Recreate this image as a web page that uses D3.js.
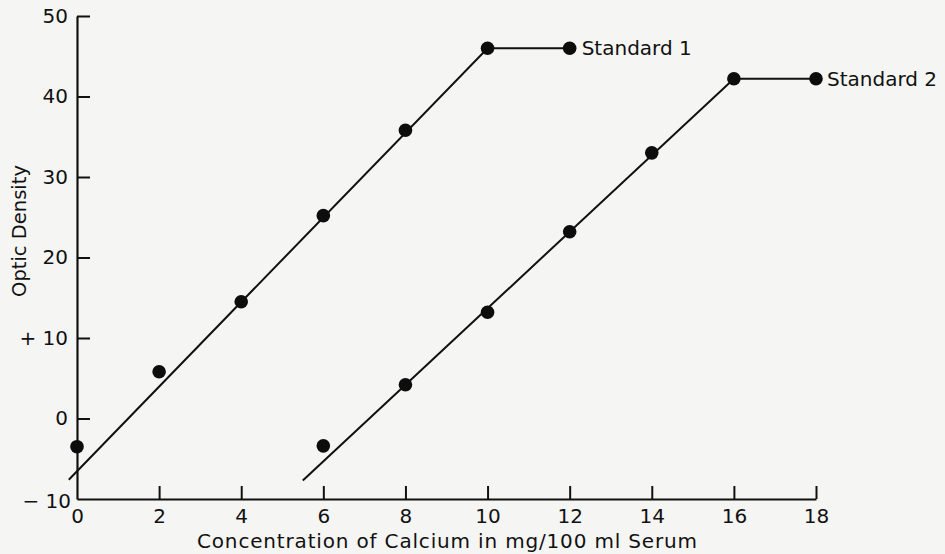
<!DOCTYPE html>
<html>
<head>
<meta charset="utf-8">
<script src="https://cdn.jsdelivr.net/npm/d3@7"></script>
<style>
  html, body { margin: 0; padding: 0; background: #f5f5f3; }
  svg { display: block; }
  text { font-family: "DejaVu Sans", sans-serif; fill: #111; }
</style>
</head>
<body>
<svg id="chart" width="945" height="554"></svg>
<script>
// Calibration curves: optic density vs. calcium concentration
const xTicks = [0, 2, 4, 6, 8, 10, 12, 14, 16, 18];
const yTicks = [-10, 0, 10, 20, 30, 40, 50];
const yTickLabels = ["\u2212 10", "0", "+ 10", "20", "30", "40", "50"];

// Measured points
const std1X = [0, 2, 4, 6, 8, 10, 12];
const std1Y = [-3.5, 5.8, 14.5, 25.2, 35.8, 46, 46];
const std2X = [6, 8, 10, 12, 14, 16, 18];
const std2Y = [-3.4, 4.2, 13.2, 23.2, 33.0, 42.2, 42.2];

// Fitted lines (rising segment, then plateau)
const std1LineX = [-0.2, 10, 12];
const std1LineY = [-7.6, 46, 46];
const std2LineX = [5.5, 16, 18];
const std2LineY = [-7.7, 42.2, 42.2];

const seriesNames = ["Standard 1", "Standard 2"];
const xTitle = "Concentration of Calcium in mg/100 ml Serum";
const yTitle = "Optic Density";

const FONT = "'DejaVu Sans', sans-serif";
const svg = d3.select("#chart");
const x = d3.scaleLinear().domain([0, 18]).range([77, 816]);
const y = d3.scaleLinear().domain([-10, 50]).range([499, 16]);

const zip = (a, b) => a.map((v, i) => [v, b[i]]);

// Axes
const yAxis = d3.axisLeft(y)
  .tickValues(yTicks)
  .tickSizeInner(-13)
  .tickSizeOuter(0)
  .tickPadding(9)
  .tickFormat((d, i) => yTickLabels[i]);
const gy = svg.append("g").attr("transform", `translate(${x(0)},0)`).call(yAxis);

const xAxis = d3.axisBottom(x)
  .tickValues(xTicks)
  .tickSizeInner(-13)
  .tickSizeOuter(0)
  .tickPadding(10)
  .tickFormat(d3.format("d"));
const gx = svg.append("g").attr("transform", `translate(0,${y(-10)})`).call(xAxis);

[gx, gy].forEach(g => {
  g.select(".domain").attr("stroke", "#111").attr("stroke-width", 2.2);
  g.selectAll(".tick line").attr("stroke", "#111").attr("stroke-width", 2);
  g.selectAll(".tick text").style("font-size", "20px").attr("fill", "#111")
    .style("font-family", FONT);
});
// The corner ticks coincide with the other axis
gx.selectAll(".tick").filter(d => d === 0).select("line").remove();
gy.selectAll(".tick").filter(d => d === -10).select("line").remove();
gy.selectAll(".tick").filter(d => d === -10).select("text").attr("dy", "0.4em").attr("x", -6);

// Fitted lines
const line = d3.line().x(d => x(d[0])).y(d => y(d[1]));
[zip(std1LineX, std1LineY), zip(std2LineX, std2LineY)].forEach(pts => {
  svg.append("path").attr("d", line(pts))
    .attr("fill", "none").attr("stroke", "#111").attr("stroke-width", 2);
});

// Points
[zip(std1X, std1Y), zip(std2X, std2Y)].forEach(pts => {
  svg.append("g").selectAll("circle").data(pts).join("circle")
    .attr("cx", d => x(d[0])).attr("cy", d => y(d[1])).attr("r", 6.8)
    .attr("fill", "#0d0d0d");
});

// Series labels at the plateau ends
svg.append("text").attr("x", x(12) + 12).attr("y", y(46)).attr("dy", "0.35em")
  .style("font-size", "20px").text(seriesNames[0]);
svg.append("text").attr("x", x(18) + 11).attr("y", y(42.2)).attr("dy", "0.35em")
  .style("font-size", "20px").text(seriesNames[1]);

// Axis titles
svg.append("text").attr("x", 447).attr("y", 548).attr("text-anchor", "middle")
  .attr("textLength", 500).attr("lengthAdjust", "spacing")
  .style("font-size", "20px").text(xTitle);
svg.append("text").attr("transform", "translate(26,231) rotate(-90)")
  .attr("text-anchor", "middle").style("font-size", "19.5px").text(yTitle);
</script>
</body>
</html>
